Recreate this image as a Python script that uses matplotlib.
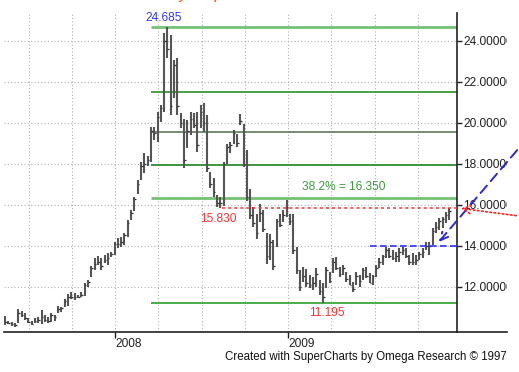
import numpy as np
import pandas as pd
import matplotlib
matplotlib.use("Agg")
import matplotlib.pyplot as plt
from matplotlib.lines import Line2D
from matplotlib.transforms import Bbox

plt.rcParams["font.family"] = ["Liberation Sans", "DejaVu Sans"]

# weekly bars
start_date = "2007-05-14"

highs = [10.57, 10.34, 10.30, 10.24, 10.91, 10.83, 10.73, 10.46, 10.34, 10.46,
         10.54, 10.86, 10.62, 10.54, 10.73, 10.62, 11.06, 11.02, 11.38, 11.64,
         11.76, 11.67, 11.60, 11.72, 12.20, 12.33, 13.03, 13.38, 13.50, 13.38,
         13.54, 13.63, 13.70, 14.20, 14.38, 14.44, 14.60, 15.25, 15.74, 16.40,
         17.20, 18.10, 18.50, 18.40, 19.80, 19.80, 20.50, 20.86, 24.36, 24.685,
         24.28, 23.06, 23.14, 20.47, 20.20, 20.13, 20.54, 20.46, 20.54, 20.86,
         20.96, 20.38, 17.60, 17.30, 16.47, 16.40, 18.10, 18.98, 19.06, 19.63,
         19.46, 20.44, 19.95, 18.65, 16.78, 15.89, 15.56, 16.05, 15.72, 14.60,
         14.58, 14.26, 15.32, 15.56, 15.72, 16.21, 15.56, 15.56, 13.93, 12.80,
         12.96, 12.88, 12.57, 12.49, 12.89, 12.33, 12.16, 12.98, 12.74, 13.38,
         13.46, 12.98, 13.06, 12.74, 12.57, 12.25, 12.74, 12.57, 12.89, 12.98,
         12.65, 12.57, 13.06, 13.38, 13.54, 13.95, 13.87, 13.79, 13.70, 13.87,
         13.95, 13.87, 13.54, 13.63, 13.54, 13.70, 13.87, 14.20, 14.20, 14.85,
         15.17, 15.33, 15.41, 15.66, 15.82]

lows = [10.13, 10.18, 10.10, 10.05, 10.23, 10.54, 10.38, 10.21, 10.13, 10.21,
        10.21, 10.18, 10.26, 10.21, 10.26, 10.31, 10.73, 10.78, 11.00, 11.06,
        11.38, 11.35, 11.43, 11.51, 11.55, 12.00, 12.47, 12.81, 13.06, 12.81,
        13.14, 13.06, 13.46, 13.54, 13.90, 13.95, 14.04, 14.43, 15.25, 15.67,
        16.50, 17.20, 17.53, 17.90, 18.10, 19.15, 19.07, 20.05, 20.54, 23.14,
        20.38, 21.20, 20.38, 19.74, 17.80, 18.76, 19.40, 19.73, 18.59, 19.74,
        19.56, 17.60, 16.80, 16.40, 15.90, 15.83, 15.95, 18.00, 18.50, 18.98,
        18.80, 19.87, 17.84, 16.20, 15.32, 14.90, 14.34, 15.15, 14.67, 13.12,
        13.28, 12.80, 13.93, 14.90, 15.15, 15.40, 14.99, 13.60, 12.63, 11.80,
        12.23, 11.98, 11.92, 11.84, 12.00, 11.59, 11.195, 11.92, 12.17, 12.65,
        12.81, 12.49, 12.57, 12.25, 12.08, 11.76, 12.08, 12.00, 12.33, 12.41,
        12.17, 12.08, 12.49, 12.89, 13.06, 13.38, 13.38, 13.30, 13.20, 13.20,
        13.54, 13.38, 13.06, 13.06, 13.06, 13.30, 13.38, 13.79, 13.54, 14.03,
        14.60, 14.76, 14.85, 15.09, 15.25]

closes = [10.30, 10.25, 10.20, 10.15, 10.70, 10.60, 10.45, 10.30, 10.20, 10.35,
          10.40, 10.50, 10.40, 10.35, 10.60, 10.50, 10.90, 10.95, 11.30, 11.50,
          11.50, 11.50, 11.50, 11.60, 12.10, 12.25, 12.90, 13.10, 13.20, 13.00,
          13.30, 13.40, 13.60, 14.10, 14.10, 14.20, 14.50, 15.10, 15.60, 16.30,
          17.00, 17.90, 18.00, 18.20, 19.60, 19.50, 20.30, 20.70, 24.00, 23.60,
          20.80, 22.80, 20.80, 20.00, 18.20, 19.60, 20.20, 19.90, 18.90, 20.50,
          20.00, 17.80, 17.00, 16.60, 16.10, 16.10, 18.00, 18.80, 18.90, 19.50,
          19.00, 20.10, 18.00, 16.40, 15.50, 15.10, 14.60, 15.60, 14.80, 13.50,
          14.20, 13.00, 15.20, 15.00, 15.50, 15.90, 15.20, 13.80, 12.80, 12.00,
          12.50, 12.20, 12.10, 12.20, 12.60, 11.80, 11.50, 12.80, 12.30, 13.20,
          12.90, 12.60, 12.90, 12.40, 12.10, 11.90, 12.50, 12.30, 12.80, 12.50,
          12.20, 12.50, 12.90, 13.20, 13.50, 13.80, 13.50, 13.40, 13.50, 13.70,
          13.80, 13.50, 13.20, 13.20, 13.30, 13.60, 13.70, 14.00, 14.00, 14.70,
          14.90, 15.20, 15.30, 15.50, 15.70]

fib_levels = [24.685, 21.502, 19.532, 17.940, 16.350, 11.195]
fib_colors = ["#74c174", "#379a37", "#4f6f4f", "#2f8f2f", "#74c174", "#3aa83a"]
fib_widths = [2.0, 1.3, 1.1, 1.3, 2.0, 1.3]
support_level = 15.830
neckline_level = 13.97
y_ticks = [12, 14, 16, 18, 20, 22, 24]

W, H = 519, 372


def px2x(px):
    return 2008 + (px - 115) / 173.0


def px2y(py):
    return 12 - (py - 286.7) / 20.5


dates = pd.date_range(start_date, periods=len(highs), freq="7D")
xpos = dates.year + (dates.dayofyear - 1) / np.where(dates.is_leap_year, 366, 365)

fig = plt.figure(figsize=(W / 100, H / 100), dpi=100)
ax = fig.add_axes([4 / W, 1 - 332 / H, 453 / W, 319 / H])
ax.set_xlim(px2x(4), px2x(457))
ax.set_ylim(px2y(332), px2y(13))

# grid
for q in np.arange(2007.5, 2010.0, 0.25):
    ax.axvline(q, color="#b0b0b0", lw=0.8, ls=(0, (1, 2)), zorder=0)
for v in y_ticks:
    ax.axhline(v, color="#b0b0b0", lw=0.8, ls=(0, (1, 2)), zorder=0)

# price bars
tick = 1.6 / 173.0
ax.vlines(xpos, lows, highs, color="#555555", lw=1.5, zorder=3)
ax.hlines(closes, xpos, xpos + tick, color="#333333", lw=0.9, zorder=3)

# fibonacci levels
x_right = ax.get_xlim()[1]
for lvl, c, w in zip(fib_levels, fib_colors, fib_widths):
    ax.hlines(lvl, px2x(151), x_right, color=c, lw=w, zorder=2)

ax.hlines(support_level, px2x(222), x_right, color="#ff3030", lw=1.1,
          ls=(0, (2, 2)), zorder=4)
ax.hlines(neckline_level, px2x(370), x_right, color="#3030ff", lw=1.2,
          ls=(0, (4, 2)), zorder=4)

# arrows (extend past the plot)
ax.annotate("", xy=(px2x(437), px2y(244)), xytext=(px2x(519), px2y(148)),
            arrowprops=dict(arrowstyle="->", color="#2a2ad0", lw=1.4,
                            ls=(0, (5, 3)), mutation_scale=14),
            annotation_clip=False, zorder=5)
ax.annotate("", xy=(px2x(458), px2y(208)), xytext=(px2x(519), px2y(216)),
            arrowprops=dict(arrowstyle="->", color="#ff2020", lw=1.2,
                            ls=(0, (1, 1.5)), mutation_scale=14),
            annotation_clip=False, zorder=5)

# labels
fs = 8.6
ax.text(px2x(164), px2y(18), "24.685", color="#3535ff", fontsize=fs,
        ha="center", va="center")
ax.text(px2x(344), px2y(187), "38.2% = 16.350", color="#3c9c3c", fontsize=fs,
        ha="center", va="center")
ax.text(px2x(218), px2y(219), "15.830", color="#ff3030", fontsize=fs,
        ha="center", va="center")
ax.text(px2x(327), px2y(313), "11.195", color="#ff3030", fontsize=fs,
        ha="center", va="center")

# axes
for s in ["top", "left"]:
    ax.spines[s].set_visible(False)
ax.spines["right"].set_color("#222222")
ax.spines["bottom"].set_color("#222222")
ax.spines["right"].set_linewidth(1.2)
ax.spines["bottom"].set_linewidth(1.2)
fig.add_artist(Line2D([457 / W, 507 / W], [1 - 332 / H, 1 - 332 / H],
                      color="#222222", lw=1.2))

ax.yaxis.tick_right()
ax.set_yticks(y_ticks)
ax.set_yticklabels(["%.5f" % v for v in y_ticks])
ax.tick_params(axis="y", length=3.5, width=1, pad=1, labelsize=fs,
               colors="#222222")
ax.set_xticks([2008.0, 2009.0])
ax.set_xticklabels(["2008", "2009"], ha="left")
ax.tick_params(axis="x", length=4.5, width=1, pad=0, labelsize=fs,
               colors="#222222")

clip = Bbox.from_extents(0, 0, 507, H)
for lab in ax.get_yticklabels():
    lab.set_clip_box(clip)
    lab.set_clip_on(True)

fig.text(507 / W, 1 - 357 / H,
         "Created with SuperCharts by Omega Research \u00a9 1997",
         fontsize=8.3, ha="right", va="center", color="#111111")

# cut-off title at the very top
fig.text(178 / W, 1 + 1.5 / H, "y", color="#f07020", fontsize=14,
         ha="left", va="baseline")
fig.text(213 / W, 1 + 1.5 / H, "p", color="#f07020", fontsize=14,
         ha="left", va="baseline")

fig.savefig("out.png", dpi=100)
